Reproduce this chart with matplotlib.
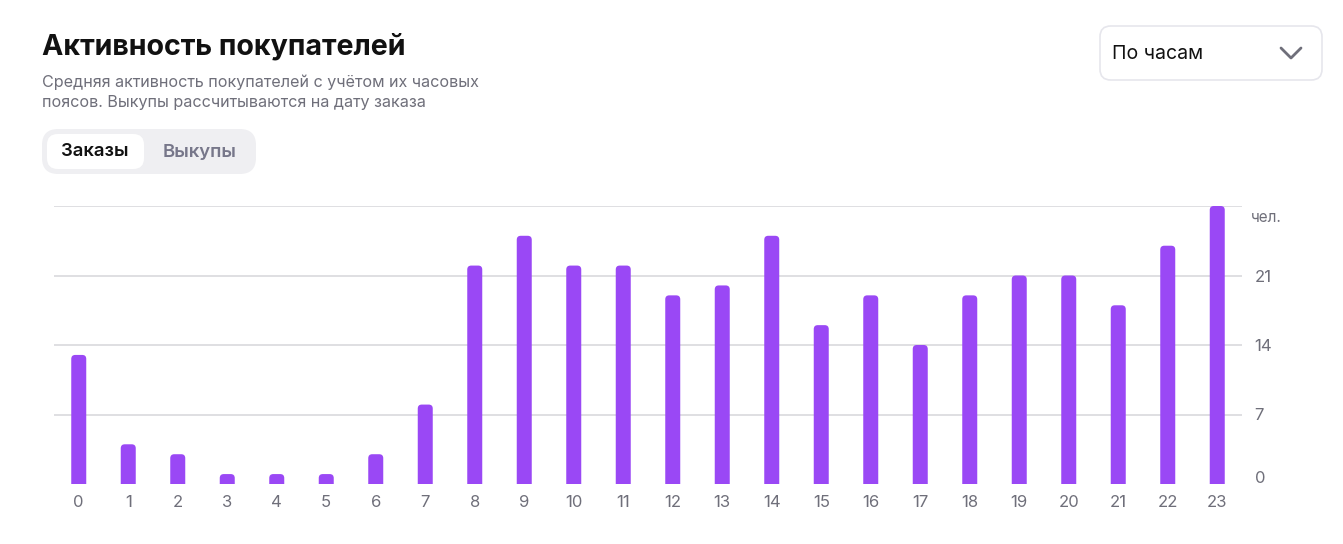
import matplotlib
matplotlib.use("Agg")
import matplotlib.pyplot as plt
import matplotlib.transforms as mtransforms
from matplotlib.patches import FancyBboxPatch
from matplotlib.lines import Line2D

plt.rcParams["font.family"] = ["Inter", "DejaVu Sans"]

W, H = 1343, 544

hours = list(range(24))
orders = [13, 4, 3, 1, 1, 1, 3, 8, 22, 25, 22, 22, 19, 20, 25, 16, 19, 14, 19, 21, 21, 18, 24, 28]
y_ticks = [0, 7, 14, 21]

BAR = "#9a48f5"
GRID = "#dcdcdf"
GRAY = "#6f6f7a"


def fx(x):
    return x / W


def fy(y):
    return 1 - y / H


fig = plt.figure(figsize=(W / 100, H / 100), dpi=100)
fig.patch.set_facecolor("white")

# chart area: x 54..1242, y 206..484 px
ax = fig.add_axes([fx(54), fy(484), (1242 - 54) / W, (484 - 206) / H])
ax.set_xlim(-0.5, 23.5)
ax.set_ylim(0, 28)

px_x = 24 / (1242 - 54)   # data units per pixel (x)
px_y = 28 / (484 - 206)   # data units per pixel (y)
bw = 15 * px_x
r = 4 * px_x
for h, v in zip(hours, orders):
    p = FancyBboxPatch((h - bw / 2, -1), bw, v + 1,
                       boxstyle=f"round,pad=0,rounding_size={r}",
                       mutation_aspect=px_y / px_x,
                       facecolor=BAR, edgecolor="none", zorder=3)
    ax.add_patch(p)

for t in [7, 14, 21, 28]:
    ax.axhline(t, color=GRID, lw=1.3, zorder=1)

for s in ax.spines.values():
    s.set_visible(False)
ax.set_xticks(hours)
ax.set_xticklabels([str(h) for h in hours])
ax.yaxis.tick_right()
ax.set_yticks(y_ticks)
ax.set_yticklabels([str(t) for t in y_ticks])
ax.tick_params(axis="both", length=0, colors=GRAY, labelsize=12)
ax.tick_params(axis="x", pad=8)
ax.tick_params(axis="y", pad=9)
# the "0" label sits a bit above the baseline
lbl0 = ax.get_yticklabels()[0]
lbl0.set_transform(lbl0.get_transform() +
                   mtransforms.ScaledTranslation(0, 7 / 100, fig.dpi_scale_trans))

ax.text(1.0 + 9 / (1242 - 54), 28 - 12 * px_y, "чел.",
        transform=ax.get_yaxis_transform(),
        ha="left", va="center", color=GRAY, fontsize=11)

# header
fig.text(fx(42), fy(47), "Активность покупателей", fontsize=20.6, fontweight="bold",
         color="#111111", va="center", ha="left")
fig.text(fx(42), fy(82), "Средняя активность покупателей с учётом их часовых",
         fontsize=11.6, color=GRAY, va="center", ha="left")
fig.text(fx(42), fy(103), "поясов. Выкупы рассчитываются на дату заказа",
         fontsize=11.6, color=GRAY, va="center", ha="left")

# toggle
fig.patches.append(FancyBboxPatch((fx(42), fy(174)), fx(256 - 42), (174 - 129) / H,
                                  boxstyle="round,pad=0,rounding_size=0.012",
                                  mutation_aspect=W / H,
                                  transform=fig.transFigure, facecolor="#efeff2",
                                  edgecolor="none"))
fig.patches.append(FancyBboxPatch((fx(47), fy(169)), fx(144 - 47), (169 - 134) / H,
                                  boxstyle="round,pad=0,rounding_size=0.008",
                                  mutation_aspect=W / H,
                                  transform=fig.transFigure, facecolor="white",
                                  edgecolor="none"))
fig.text(fx(95), fy(152), "Заказы", fontsize=13.3, fontweight="semibold",
         color="#111111", va="center", ha="center")
fig.text(fx(200), fy(152), "Выкупы", fontsize=13.3, fontweight="semibold",
         color="#77778a", va="center", ha="center")

# dropdown
fig.patches.append(FancyBboxPatch((fx(1100), fy(80)), fx(1322 - 1100), (80 - 26) / H,
                                  boxstyle="round,pad=0,rounding_size=0.008",
                                  mutation_aspect=W / H,
                                  transform=fig.transFigure, facecolor="white",
                                  edgecolor="#e6e6ec", lw=1.2))
fig.text(fx(1112), fy(54), "По часам", fontsize=14, color="#111111",
         va="center", ha="left")
fig.lines.append(Line2D([fx(1281), fx(1291), fx(1301)], [fy(48), fy(58), fy(48)],
                        transform=fig.transFigure, color="#6f6f7a", lw=2,
                        solid_capstyle="round", solid_joinstyle="round"))

fig.savefig("out.png", dpi=100, facecolor="white")
